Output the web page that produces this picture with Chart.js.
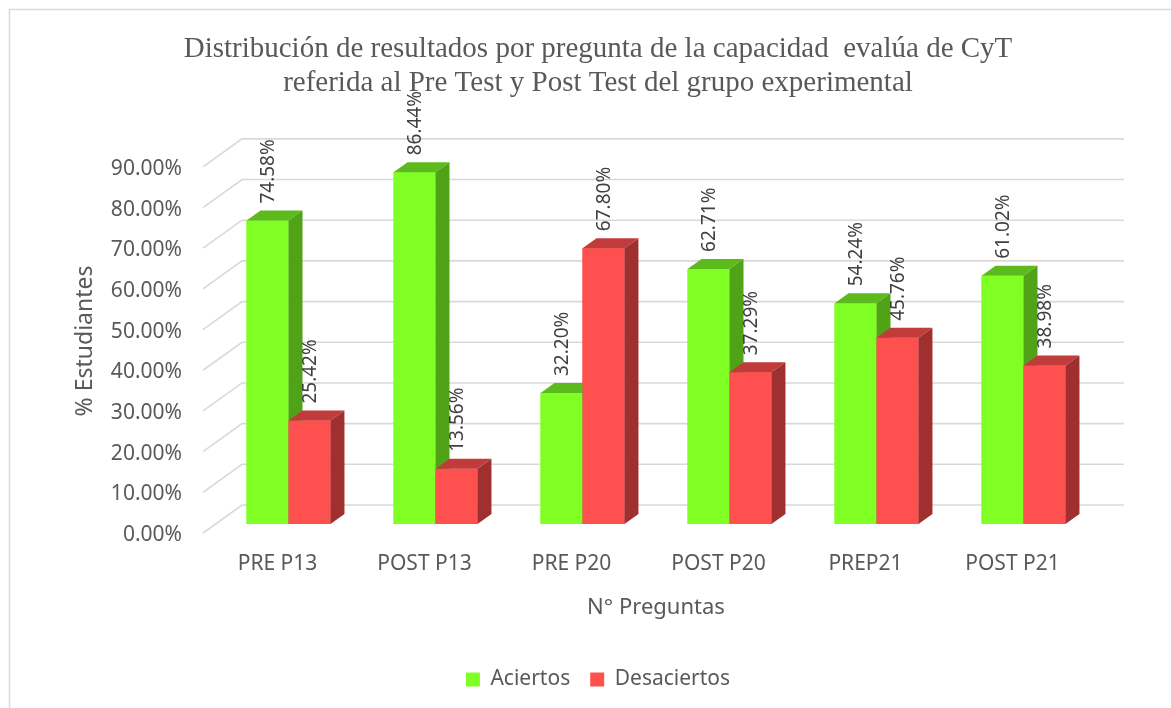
<!DOCTYPE html>
<html>
<head>
<meta charset="utf-8">
<script src="https://cdn.jsdelivr.net/npm/chart.js@4.4.0/dist/chart.umd.min.js"></script>
<style>
  html, body { margin: 0; padding: 0; background: #fff; }
  #wrap { width: 1171px; height: 708px; }
</style>
</head>
<body>
<div id="wrap"><canvas id="graphCanvas" width="1171" height="708"></canvas></div>
<script>
const categories = ['PRE P13', 'POST P13', 'PRE P20', 'POST P20', 'PREP21', 'POST P21'];
const aciertos = [74.58, 86.44, 32.20, 62.71, 54.24, 61.02];
const desaciertos = [25.42, 13.56, 67.80, 37.29, 45.76, 38.98];
const titleLines = [
    'Distribución de resultados por pregunta de la capacidad  evalúa de CyT',
    'referida al Pre Test y Post Test del grupo experimental'
];

const textColor = '#595959';
const gridColor = '#d9d9d9';
// depth offsets of the fake 3d look
const depth = { dx: 14, dy: -10 };
const wall = { dx: 27, dy: -19 };
const front = { dx: -12, dy: 9 };

const sideColors = ['#50a316', '#a03030'];
const topColors = ['#5dba1c', '#c13b3b'];

const threeD = {
    id: 'threeD',
    beforeDraw(chart) {
        const ctx = chart.ctx;
        ctx.save();
        ctx.strokeStyle = gridColor;
        ctx.lineWidth = 1.5;
        ctx.strokeRect(9.5, 9.5, 1300, 900);
        ctx.restore();
    },
    beforeDatasetsDraw(chart) {
        const { ctx, chartArea } = chart;
        const y = chart.scales.y;
        ctx.save();
        ctx.strokeStyle = gridColor;
        ctx.lineWidth = 1.6;
        y.ticks.forEach(t => {
            const py = y.getPixelForValue(t.value);
            ctx.beginPath();
            ctx.moveTo(chartArea.left + front.dx, py + front.dy);
            ctx.lineTo(chartArea.left + wall.dx, py + wall.dy);
            ctx.lineTo(chartArea.right + wall.dx, py + wall.dy);
            ctx.stroke();
        });
        ctx.restore();
    },
    afterDatasetsDraw(chart) {
        const ctx = chart.ctx;
        ctx.save();
        // redraw in series order so the red front hides the green side
        chart.data.datasets.forEach((ds, i) => {
            chart.getDatasetMeta(i).data.forEach(bar => {
                bar.draw(ctx);
                const l = bar.x - bar.width / 2;
                const r = bar.x + bar.width / 2;
                ctx.fillStyle = topColors[i];
                ctx.beginPath();
                ctx.moveTo(l, bar.y);
                ctx.lineTo(r, bar.y);
                ctx.lineTo(r + depth.dx, bar.y + depth.dy);
                ctx.lineTo(l + depth.dx, bar.y + depth.dy);
                ctx.closePath();
                ctx.fill();
                ctx.fillStyle = sideColors[i];
                ctx.beginPath();
                ctx.moveTo(r, bar.y);
                ctx.lineTo(r + depth.dx, bar.y + depth.dy);
                ctx.lineTo(r + depth.dx, bar.base + depth.dy);
                ctx.lineTo(r, bar.base);
                ctx.closePath();
                ctx.fill();
            });
        });

        ctx.fillStyle = '#404040';
        ctx.font = '19px "Noto Sans"';
        ctx.textAlign = 'left';
        ctx.textBaseline = 'middle';
        chart.data.datasets.forEach((ds, i) => {
            chart.getDatasetMeta(i).data.forEach((bar, j) => {
                ctx.save();
                ctx.translate(bar.x + 1, bar.y + depth.dy - 7);
                ctx.rotate(-Math.PI / 2);
                ctx.fillText(ds.data[j].toFixed(2) + '%', 0, 0);
                ctx.restore();
            });
        });
        ctx.restore();
    }
};

const context = document.getElementById('graphCanvas').getContext('2d');
const chart = new Chart(context, {
    type: 'bar',
    data: {
        labels: categories,
        datasets: [
            { label: 'Aciertos', data: aciertos, backgroundColor: '#80ff24' },
            { label: 'Desaciertos', data: desaciertos, backgroundColor: '#ff5050' }
        ]
    },
    options: {
        responsive: false,
        animation: false,
        devicePixelRatio: 1,
        layout: { padding: { left: 25, right: 0, top: 10, bottom: 8 } },
        datasets: {
            bar: { categoryPercentage: 0.571, barPercentage: 1, borderWidth: 0 }
        },
        scales: {
            x: {
                grid: { display: false, drawTicks: false },
                border: { display: false },
                ticks: {
                    color: textColor,
                    font: { family: 'Noto Sans', size: 21 },
                    padding: 27,
                    labelOffset: -11,
                    maxRotation: 0
                },
                title: {
                    display: true,
                    text: 'N° Preguntas',
                    color: textColor,
                    font: { family: 'Noto Sans', size: 22 },
                    padding: { top: 0, bottom: 28 }
                },
                afterFit(scale) { scale.height = 125; }
            },
            y: {
                min: 0,
                max: 90,
                grid: { display: false, drawTicks: false },
                border: { display: false },
                ticks: {
                    stepSize: 10,
                    color: textColor,
                    font: { family: 'Noto Sans', size: 21 },
                    padding: 33,
                    labelOffset: 11,
                    callback: v => v.toFixed(2) + '%'
                },
                title: {
                    display: true,
                    text: '% Estudiantes',
                    color: textColor,
                    font: { family: 'Noto Sans', size: 23 },
                    padding: { top: 47, bottom: 0 }
                },
                afterFit(scale) { scale.width = 190; }
            },
            spacer: {
                position: 'right',
                grid: { display: false, drawTicks: false },
                border: { display: false },
                ticks: { display: false },
                afterFit(scale) { scale.width = 74; }
            }
        },
        plugins: {
            title: {
                display: true,
                text: titleLines,
                color: textColor,
                font: { family: 'Liberation Serif', size: 29, weight: 'normal', lineHeight: 1.17 },
                padding: { top: 22, bottom: 58 }
            },
            legend: {
                position: 'bottom',
                labels: {
                    color: textColor,
                    font: { family: 'Noto Sans', size: 21 },
                    boxWidth: 14,
                    boxHeight: 14,
                    padding: 20
                }
            },
            tooltip: { enabled: false }
        }
    },
    plugins: [threeD]
});
</script>
</body>
</html>
